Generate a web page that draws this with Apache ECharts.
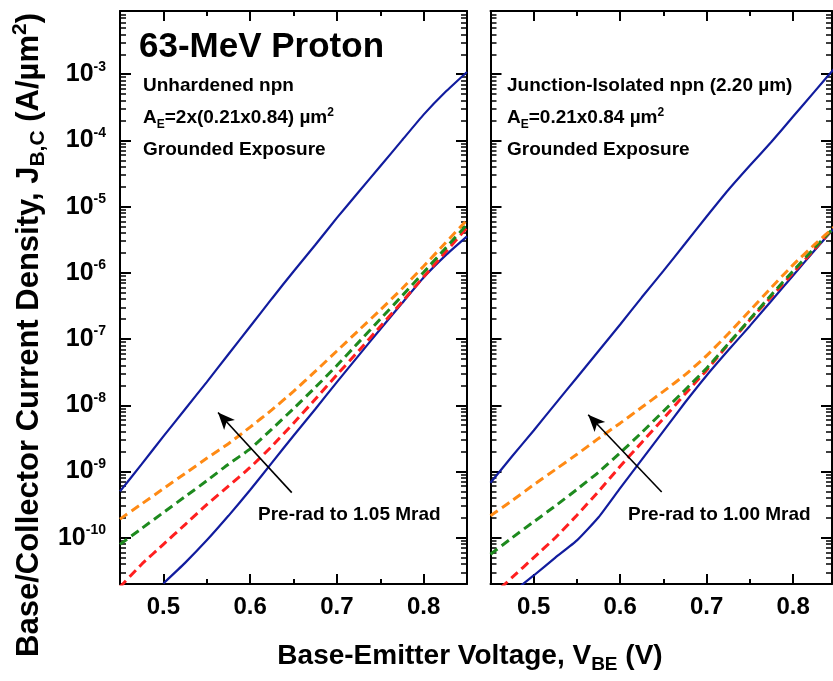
<!DOCTYPE html>
<html>
<head>
<meta charset="utf-8">
<script src="https://cdn.jsdelivr.net/npm/echarts@6/dist/echarts.min.js"></script>
<style>
  html, body { margin: 0; padding: 0; background: #fff; }
  #chart { width: 833px; height: 681px; }
</style>
</head>
<body>
<div id="chart"></div>
<script>
// Base-emitter voltage sweep (V)
const voltages = [0.45, 0.475, 0.50, 0.525, 0.55, 0.575, 0.60, 0.625, 0.65,
                  0.675, 0.70, 0.725, 0.75, 0.775, 0.80, 0.825, 0.85];

// Unhardened npn: collector current density, pre-rad (A/um^2)
const unhardenedIc = [5.0e-10, 1.29e-9, 3.39e-9, 8.71e-9, 2.24e-8, 5.89e-8, 1.55e-7, 4.07e-7, 1.05e-6,
                      2.63e-6, 6.76e-6, 1.66e-5, 4.07e-5, 1.0e-4, 2.45e-4, 5.37e-4, 1.08e-3];
// Unhardened npn: base current density, pre-rad and increasing dose steps
const unhardenedIbPre = [null, null, 2.04e-11, 4.17e-11, 9.12e-11, 2.14e-10, 5.25e-10, 1.35e-9, 3.47e-9,
                         8.71e-9, 2.24e-8, 5.62e-8, 1.41e-7, 3.47e-7, 8.51e-7, 1.82e-6, 3.55e-6];
const unhardenedIbDose1 = [1.8e-11, 3.98e-11, 7.94e-11, 1.58e-10, 3.16e-10, 6.03e-10, 1.15e-9, 2.40e-9, 5.37e-9,
                           1.23e-8, 2.88e-8, 6.61e-8, 1.55e-7, 3.63e-7, 8.71e-7, 2.04e-6, 4.79e-6];
const unhardenedIbDose2 = [7.94e-11, 1.38e-10, 2.40e-10, 4.17e-10, 7.24e-10, 1.29e-9, 2.19e-9, 4.37e-9, 8.91e-9,
                           1.86e-8, 3.98e-8, 8.91e-8, 2.00e-7, 4.47e-7, 1.02e-6, 2.34e-6, 5.37e-6];
const unhardenedIbDose3 = [1.91e-10, 3.24e-10, 5.50e-10, 9.33e-10, 1.58e-9, 2.63e-9, 4.68e-9, 8.51e-9, 1.62e-8,
                           3.24e-8, 6.61e-8, 1.35e-7, 2.75e-7, 5.75e-7, 1.26e-6, 2.82e-6, 6.31e-6];

// Junction-isolated npn: collector current density, pre-rad (A/um^2)
const isolatedIc = [6.76e-10, 1.70e-9, 4.17e-9, 1.05e-8, 2.63e-8, 6.61e-8, 1.66e-7, 4.27e-7, 1.07e-6,
                    2.75e-6, 7.08e-6, 1.78e-5, 4.17e-5, 9.55e-5, 2.29e-4, 5.50e-4, 1.32e-3];
// Junction-isolated npn: base current density, pre-rad and increasing dose steps
const isolatedIbPre = [null, 1.48e-11, 2.69e-11, 5.01e-11, 9.12e-11, 2.04e-10, 5.62e-10, 1.51e-9, 4.07e-9,
                       1.10e-8, 2.82e-8, 6.76e-8, 1.58e-7, 3.80e-7, 9.12e-7, 2.19e-6, 5.13e-6];
const isolatedIbDose1 = [1.26e-11, 2.51e-11, 5.01e-11, 1.0e-10, 2.19e-10, 5.01e-10, 1.20e-9, 2.75e-9, 6.31e-9,
                         1.48e-8, 3.39e-8, 8.32e-8, 1.95e-7, 4.37e-7, 1.0e-6, 2.29e-6, 5.25e-6];
const isolatedIbDose2 = [5.62e-11, 1.0e-10, 1.74e-10, 3.02e-10, 5.37e-10, 9.77e-10, 1.91e-9, 3.89e-9, 8.13e-9,
                         1.70e-8, 3.63e-8, 8.51e-8, 2.00e-7, 4.68e-7, 1.07e-6, 2.40e-6, 5.25e-6];
const isolatedIbDose3 = [2.14e-10, 3.63e-10, 6.31e-10, 1.07e-9, 1.82e-9, 3.16e-9, 5.37e-9, 9.33e-9, 1.62e-8,
                         2.88e-8, 5.62e-8, 1.20e-7, 2.69e-7, 6.03e-7, 1.32e-6, 2.69e-6, 5.25e-6];

// Axis ranges and ticks
const xMin = 0.45;
const xMaxLeft = 0.85;
const xMaxRight = 0.845;
const yMin = 2e-11;
const yMax = 9e-3;
const xMajorTicks = [0.5, 0.6, 0.7, 0.8];
const xMinorTicks = [0.55, 0.65, 0.75];
const yMajorTicks = [1e-10, 1e-9, 1e-8, 1e-7, 1e-6, 1e-5, 1e-4, 1e-3];
const yMinorTicks = [];
for (let e = -11; e <= -3; e++) {
  for (let k = 2; k <= 9; k++) {
    const v = k * Math.pow(10, e);
    if (v >= yMin && v <= yMax) yMinorTicks.push(v);
  }
}

// Dose arrows (tail -> head) in data coordinates
const unhardenedArrow = [[0.648, 4.8e-10], [0.563, 7.8e-9]];
const isolatedArrow = [[0.648, 4.9e-10], [0.563, 7.2e-9]];

const FONT = '"Liberation Sans", Arial, Helvetica, sans-serif';
const BLUE = '#111c9e';
const RED = '#ff1f1f';
const GREEN = '#1e8a1e';
const ORANGE = '#ff8a14';

const grids = [
  { left: 120, top: 11, width: 347, height: 573 },
  { left: 490.5, top: 11, width: 341.5, height: 573 }
];

const xAxes = [];
const yAxes = [];

function addXAxes(g, xMax) {
  const base = {
    gridIndex: g, type: 'value', min: xMin, max: xMax,
    splitLine: { show: false }
  };
  // bottom: frame line, major ticks and labels
  xAxes.push(Object.assign({}, base, {
    position: 'bottom',
    axisLine: { show: true, onZero: false, lineStyle: { color: '#000', width: 2 } },
    axisTick: { show: true, inside: true, length: 10, customValues: xMajorTicks,
                lineStyle: { color: '#000', width: 2 } },
    axisLabel: { show: true, customValues: xMajorTicks, margin: 11,
                 formatter: v => v.toFixed(1),
                 color: '#000', fontSize: 24, fontWeight: 'bold', fontFamily: FONT }
  }));
  // bottom minor ticks
  xAxes.push(Object.assign({}, base, {
    position: 'bottom',
    axisLine: { show: false, onZero: false },
    axisTick: { show: true, inside: true, length: 5, customValues: xMinorTicks,
                lineStyle: { color: '#000', width: 2 } },
    axisLabel: { show: false }
  }));
  // top: frame line and major ticks
  xAxes.push(Object.assign({}, base, {
    position: 'top',
    axisLine: { show: true, onZero: false, lineStyle: { color: '#000', width: 2 } },
    axisTick: { show: true, inside: true, length: 10, customValues: xMajorTicks,
                lineStyle: { color: '#000', width: 2 } },
    axisLabel: { show: false }
  }));
  // top minor ticks
  xAxes.push(Object.assign({}, base, {
    position: 'top',
    axisLine: { show: false, onZero: false },
    axisTick: { show: true, inside: true, length: 5, customValues: xMinorTicks,
                lineStyle: { color: '#000', width: 2 } },
    axisLabel: { show: false }
  }));
}

function addYAxes(g, showLabels) {
  const base = {
    gridIndex: g, type: 'log', logBase: 10, min: yMin, max: yMax,
    splitLine: { show: false }
  };
  yAxes.push(Object.assign({}, base, {
    position: 'left',
    axisLine: { show: true, onZero: false, lineStyle: { color: '#000', width: 2 } },
    axisTick: { show: true, inside: true, length: 11, customValues: yMajorTicks,
                lineStyle: { color: '#000', width: 2 } },
    axisLabel: {
      show: showLabels, customValues: yMajorTicks, margin: 14,
      formatter: v => '{b|10}{s|' + Math.round(Math.log10(v)) + '}',
      rich: {
        b: { fontSize: 25, fontWeight: 'bold', fontFamily: FONT, color: '#000' },
        s: { fontSize: 14, fontWeight: 'bold', fontFamily: FONT, color: '#000', padding: [0, 0, 15, 0] }
      }
    }
  }));
  yAxes.push(Object.assign({}, base, {
    position: 'left',
    axisLine: { show: false, onZero: false },
    axisTick: { show: true, inside: true, length: 6, customValues: yMinorTicks,
                lineStyle: { color: '#000', width: 1.5 } },
    axisLabel: { show: false }
  }));
  yAxes.push(Object.assign({}, base, {
    position: 'right',
    axisLine: { show: true, onZero: false, lineStyle: { color: '#000', width: 2 } },
    axisTick: { show: true, inside: true, length: 11, customValues: yMajorTicks,
                lineStyle: { color: '#000', width: 2 } },
    axisLabel: { show: false }
  }));
  yAxes.push(Object.assign({}, base, {
    position: 'right',
    axisLine: { show: false, onZero: false },
    axisTick: { show: true, inside: true, length: 6, customValues: yMinorTicks,
                lineStyle: { color: '#000', width: 1.5 } },
    axisLabel: { show: false }
  }));
}

addXAxes(0, xMaxLeft);
addYAxes(0, true);
addXAxes(1, xMaxRight);
addYAxes(1, false);

function pairs(values) {
  const out = [];
  values.forEach((y, i) => { if (y !== null) out.push([voltages[i], y]); });
  return out;
}

function curve(name, values, panel, color, dashed, extra) {
  return Object.assign({
    name: name, type: 'line', xAxisIndex: panel * 4, yAxisIndex: panel * 4,
    data: pairs(values), showSymbol: false, symbol: 'none', silent: true,
    smooth: 0.15, clip: true,
    lineStyle: dashed
      ? { color: color, width: 3, type: [9, 5] }
      : { color: color, width: 2.2, type: 'solid' },
    z: dashed ? 3 : 2
  }, extra || {});
}

function arrow(coords) {
  return {
    silent: true, symbol: ['none', 'arrow'], symbolSize: [11, 17],
    label: { show: false },
    lineStyle: { color: '#000', width: 1.6, type: 'solid' },
    data: [[{ coord: coords[0] }, { coord: coords[1] }]]
  };
}

const series = [
  curve('Ic pre-rad', unhardenedIc, 0, BLUE, false),
  curve('Ib pre-rad', unhardenedIbPre, 0, BLUE, false, { markLine: arrow(unhardenedArrow) }),
  curve('Ib dose 1', unhardenedIbDose1, 0, RED, true),
  curve('Ib dose 2', unhardenedIbDose2, 0, GREEN, true),
  curve('Ib dose 3', unhardenedIbDose3, 0, ORANGE, true),
  curve('Ic pre-rad', isolatedIc, 1, BLUE, false),
  curve('Ib pre-rad', isolatedIbPre, 1, BLUE, false, { markLine: arrow(isolatedArrow) }),
  curve('Ib dose 1', isolatedIbDose1, 1, RED, true),
  curve('Ib dose 2', isolatedIbDose2, 1, GREEN, true),
  curve('Ib dose 3', isolatedIbDose3, 1, ORANGE, true)
];

const txt = { fontFamily: FONT, fontWeight: 'bold', fill: '#000' };
const sub = { fontFamily: FONT, fontWeight: 'bold', fill: '#000', fontSize: 12, padding: [13, 0, 0, 0] };
const sup = { fontFamily: FONT, fontWeight: 'bold', fill: '#000', fontSize: 12, padding: [0, 0, 11, 0] };

function label(x, y, text, rich, size) {
  return {
    type: 'text', x: x, y: y, silent: true,
    style: {
      text: text, align: 'left', verticalAlign: 'middle',
      fontFamily: FONT, fontWeight: 'bold', fontSize: size, fill: '#000',
      rich: rich || {}
    }
  };
}

const graphics = [
  label(139, 47, '63-MeV Proton', null, 35),
  label(143, 86, 'Unhardened npn', null, 19),
  label(143, 118, '{t|A}{e|E}{t|=2x(0.21x0.84) µm}{p|2}',
        { t: Object.assign({ fontSize: 19 }, txt), e: sub, p: sup }, 19),
  label(143, 150, 'Grounded Exposure', null, 19),
  label(507, 86, 'Junction-Isolated npn (2.20 µm)', null, 19),
  label(507, 118, '{t|A}{e|E}{t|=0.21x0.84 µm}{p|2}',
        { t: Object.assign({ fontSize: 19 }, txt), e: sub, p: sup }, 19),
  label(507, 150, 'Grounded Exposure', null, 19),
  label(258, 515, 'Pre-rad to 1.05 Mrad', null, 19),
  label(628, 515, 'Pre-rad to 1.00 Mrad', null, 19),
  {
    type: 'text', x: 470, y: 656, silent: true,
    style: {
      text: '{t|Base-Emitter Voltage, V}{s|BE}{t| (V)}',
      align: 'center', verticalAlign: 'middle',
      rich: {
        t: Object.assign({ fontSize: 28 }, txt),
        s: Object.assign({}, txt, { fontSize: 19, padding: [18, 0, 0, 0] })
      }
    }
  },
  {
    type: 'text', x: 29, y: 335, rotation: Math.PI / 2, silent: true,
    style: {
      text: '{t|Base/Collector Current Density, J}{s|B,C}{t| (A/µm}{p|2}{t|)}',
      align: 'center', verticalAlign: 'middle',
      rich: {
        t: Object.assign({ fontSize: 31 }, txt),
        s: Object.assign({}, txt, { fontSize: 21, padding: [19, 0, 0, 0] }),
        p: Object.assign({}, txt, { fontSize: 21, padding: [0, 0, 17, 0] })
      }
    }
  }
];

const chart = echarts.init(document.getElementById('chart'), null, { renderer: 'canvas' });
chart.setOption({
  animation: false,
  backgroundColor: '#fff',
  grid: grids,
  xAxis: xAxes,
  yAxis: yAxes,
  series: series,
  graphic: graphics
});
</script>
</body>
</html>
